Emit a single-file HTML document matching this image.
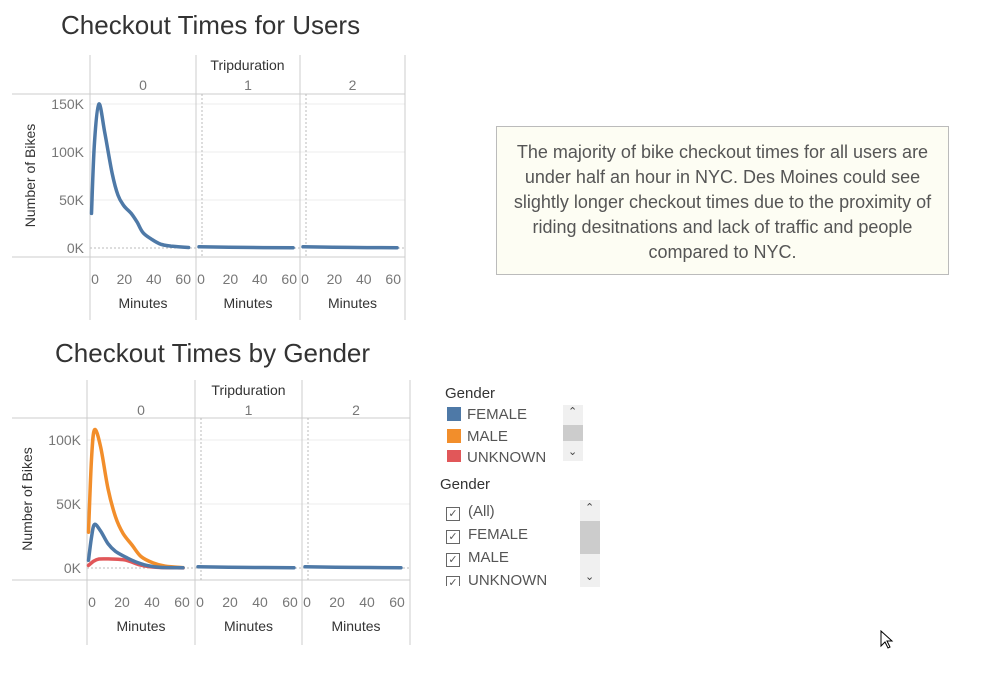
<!DOCTYPE html>
<html><head><meta charset="utf-8"><style>
body{margin:0;width:987px;height:679px;background:#fff;overflow:hidden;font-family:"Liberation Sans",sans-serif;position:relative}
.t{position:absolute;white-space:nowrap}
</style></head><body>
<div class="t" style="left:61px;top:10px;font-size:26px;color:#333">Checkout Times for Users</div>
<div class="t" style="left:55px;top:338px;font-size:26px;color:#333">Checkout Times by Gender</div>
<div style="position:absolute;left:496px;top:126px;width:453px;height:149px;background:#fdfdf3;border:1px solid #bbb;color:#555;font-size:18px;line-height:25px;text-align:center;box-sizing:border-box;padding:13px 6px 0 6px">The majority of bike checkout times for all users are under half an hour in NYC. Des Moines could see slightly longer checkout times due to the proximity of riding desitnations and lack of traffic and people compared to NYC.</div>

<div class="t" style="left:445px;top:385px;font-size:15px;color:#333">Gender</div>
<div style="position:absolute;left:447px;top:407px;width:14px;height:14px;background:#4e79a7"></div>
<div class="t" style="left:467px;top:406px;font-size:15px;color:#555">FEMALE</div>
<div style="position:absolute;left:447px;top:429px;width:14px;height:14px;background:#f28e2b"></div>
<div class="t" style="left:467px;top:428px;font-size:15px;color:#555">MALE</div>
<div style="position:absolute;left:447px;top:450px;width:14px;height:12px;background:#e15759"></div>
<div class="t" style="left:467px;top:449px;font-size:15px;color:#555;height:13px;overflow:hidden">UNKNOWN</div>
<div style="position:absolute;left:563px;top:405px;width:20px;height:56px;background:#f0f0f0"><div style="position:absolute;top:20px;width:20px;height:16px;background:#ccc"></div><div class="t" style="left:5px;top:0px;font-size:11px;color:#444">&#8963;</div><div class="t" style="left:5px;top:40px;font-size:11px;color:#444">&#8964;</div></div>

<div class="t" style="left:440px;top:476px;font-size:15px;color:#333">Gender</div>
<div id="filters"></div>
<div style="position:absolute;left:580px;top:500px;width:20px;height:87px;background:#f0f0f0"><div style="position:absolute;top:21px;width:20px;height:33px;background:#ccc"></div><div class="t" style="left:5px;top:1px;font-size:11px;color:#444">&#8963;</div><div class="t" style="left:5px;top:70px;font-size:11px;color:#444">&#8964;</div></div>

<svg id="cursor" style="position:absolute;left:880px;top:630px" width="14" height="20"><path d="M1 1 L1 16 L5 12 L8 18 L10 17 L7 11 L12 11 Z" fill="#fff" stroke="#000"/></svg>

<svg id="c" width="987" height="679" style="position:absolute;left:0;top:0;pointer-events:none" font-family="Liberation Sans, sans-serif"></svg>
<script>
const yTicks1=[0,50,100,150];
const yTicks2=[0,50,100];
const xTicks=[0,20,40,60];
const panels=["0","1","2"];
const usersMin=[-1,1,4,8,13,17,21,26,30,34,40,46,53,65];
const usersVal=[36,110,150,120,78,55,44,36,27,16,9,4,2,0.5];
const tailMin=[0,30,64];
const tailVal=[1.2,0.6,0.3];
const maleMin=[-1,1,3,7,12,17,22,28,34,42,50,62];
const maleVal=[28,85,108,95,62,40,27,18,9,4,1.5,0.3];
const femaleMin=[-1,1,3,7,12,17,23,30,38,47,62];
const femaleVal=[6,24,34,29,19,13,9,5,2,0.5,0.2];
const unkMin=[-1,2,6,14,22,27,33,40,50,62];
const unkVal=[2,5,7,7,6.5,5,2.5,1,0.3,0.1];
const tail2Val=[1,0.5,0.2];

const svg=document.getElementById('c');
const NS='http://www.w3.org/2000/svg';
function mk(tag,attrs,name,parent){const e=document.createElementNS(NS,tag);for(const k in attrs)e.setAttribute(k,attrs[k]);


(parent||svg).appendChild(e);return e;}
function txt(x,y,s,size,fill,name,anchor,rot){const t=mk('text',{x:x,y:y,'font-size':size,fill:fill,'text-anchor':anchor||'middle'},name);if(rot)t.setAttribute('transform','rotate(-90 '+x+' '+y+')');t.textContent=s;return t;}
function smooth(pts){
  let d='M'+pts[0][0].toFixed(1)+' '+pts[0][1].toFixed(1);
  for(let i=0;i<pts.length-1;i++){
    const p0=pts[Math.max(0,i-1)],p1=pts[i],p2=pts[i+1],p3=pts[Math.min(pts.length-1,i+2)];
    const c1=[p1[0]+(p2[0]-p0[0])/6,p1[1]+(p2[1]-p0[1])/6];
    const c2=[p2[0]-(p3[0]-p1[0])/6,p2[1]-(p3[1]-p1[1])/6];
    d+=' C'+c1[0].toFixed(1)+' '+c1[1].toFixed(1)+' '+c2[0].toFixed(1)+' '+c2[1].toFixed(1)+' '+p2[0].toFixed(1)+' '+p2[1].toFixed(1);
  }
  return d;
}

function chart(cfg){
  const {px,top,hdr,bot,yZero,yScale,yt,x0off,xs,series,tails}=cfg;
  const yf=v=>yZero-v*yScale;
  yt.forEach(v=>{if(v>0)mk('line',{x1:px[0],x2:px[3],y1:yf(v),y2:yf(v),stroke:'#eee'},'gridline');});
  mk('line',{x1:px[0],x2:px[3],y1:yZero,y2:yZero,stroke:'#bbb','stroke-dasharray':'2,2'},'zero-line');
  mk('line',{x1:12,x2:px[3],y1:hdr,y2:hdr,stroke:'#ccc'},'header-line');
  mk('line',{x1:12,x2:px[3],y1:bot,y2:bot,stroke:'#ccc'},'axis-bottom-line');
  for(let i=0;i<4;i++)mk('line',{x1:px[i],x2:px[i],y1:top,y2:top+265,stroke:'#ccc'},'panel-divider');
  for(let i=1;i<3;i++)mk('line',{x1:px[i]+6,x2:px[i]+6,y1:hdr,y2:bot,stroke:'#bbb','stroke-dasharray':'2,2'},'panel-zero-line');
  yt.forEach(v=>txt(px[0]-6,yf(v)+5,v+'K',14,'#777','y-tick-label','end'));
  txt(cfg.ytx,(hdr+bot)/2,'Number of Bikes',14,'#333','y-axis-title','middle',true);
  txt((px[0]+px[3])/2,top+15,'Tripduration',14,'#333','facet-title');
  panels.forEach((p,i)=>{
    const xf=m=>px[i]+x0off+m*xs;
    txt((px[i]+px[i+1])/2,top+35,p,14,'#777','panel-label');
    xTicks.forEach(t=>txt(xf(t)+2,bot+27,t,14,'#777','x-tick-label'));
    txt((px[i]+px[i+1])/2,bot+51,'Minutes',14,'#333','x-axis-title');
    const list=i===0?series:tails;
    list.forEach(s=>{
      const pts=s.m.map((m,j)=>[xf(m),yf(s.v[j])]);
      mk('path',{d:smooth(pts),fill:'none',stroke:s.c,'stroke-width':3.5,'stroke-linejoin':'round','stroke-linecap':'round'},s.n);
    });
  });
}
chart({px:[90,196,300,405],top:55,hdr:94,bot:257,yZero:248,yScale:0.96,yt:yTicks1,x0off:3,xs:1.47,ytx:35,
  series:[{m:usersMin,v:usersVal,c:'#4e79a7',n:'users-line'}],
  tails:[{m:tailMin,v:tailVal,c:'#4e79a7',n:'users-line-tail'}]});
chart({px:[87,195,302,410],top:380,hdr:418,bot:580,yZero:568,yScale:1.28,yt:yTicks2,x0off:3,xs:1.5,ytx:32,
  series:[{m:unkMin,v:unkVal,c:'#e15759',n:'unknown-line'},{m:maleMin,v:maleVal,c:'#f28e2b',n:'male-line'},{m:femaleMin,v:femaleVal,c:'#4e79a7',n:'female-line'}],
  tails:[{m:tailMin,v:tail2Val,c:'#4e79a7',n:'gender-line-tail'}]});

const items=['(All)','FEMALE','MALE','UNKNOWN'];
const f=document.getElementById('filters');
items.forEach((s,i)=>{
  const d=document.createElement('div');
  d.className='t';
  
  
  d.style.cssText='left:446px;top:'+(503+i*23)+'px;font-size:15px;color:#555;'+(i===3?'height:14px;overflow:hidden':'');
  d.innerHTML='<span style="display:inline-block;width:12px;height:12px;border:1px solid #666;font-size:11px;line-height:12px;text-align:center;margin-right:8px;vertical-align:-1px">&#10003;</span>'+s;
  f.appendChild(d);
});
</script>
</body></html>
